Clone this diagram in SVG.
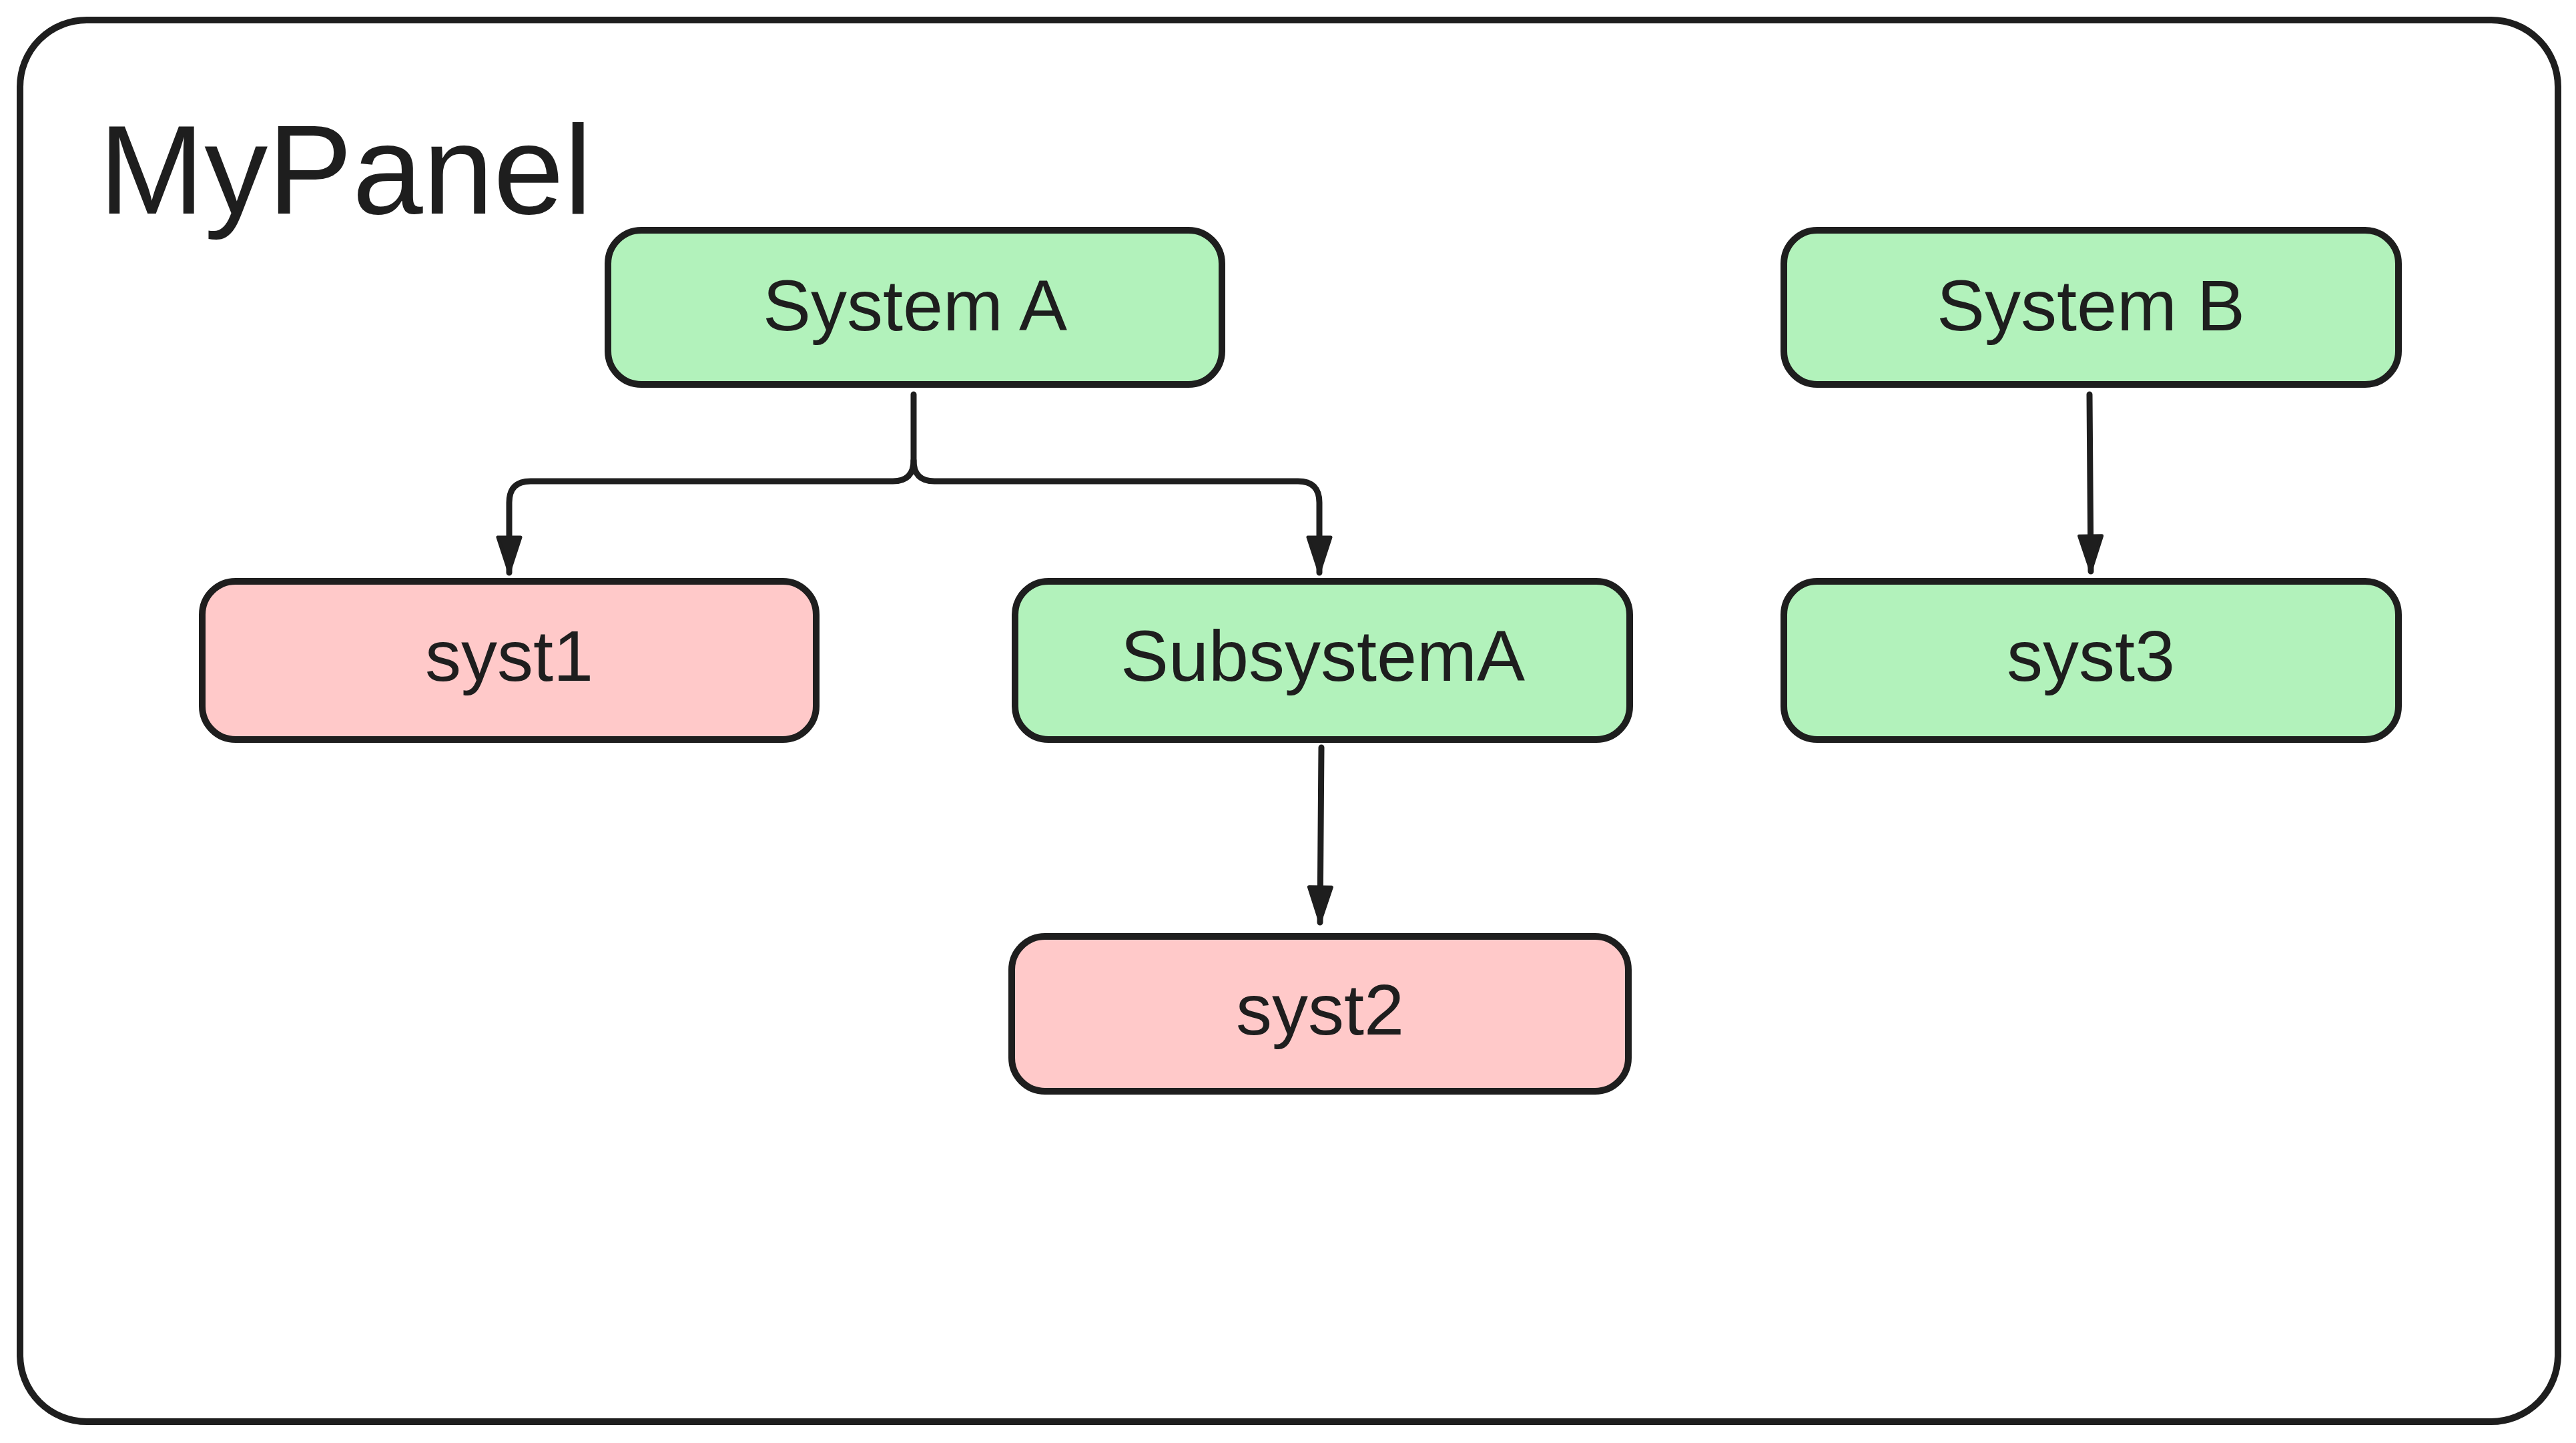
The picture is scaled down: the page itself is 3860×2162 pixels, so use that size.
<svg xmlns="http://www.w3.org/2000/svg" width="3860" height="2162" viewBox="0 0 3860 2162">
<style>
.panel{fill:#ffffff;stroke:#1e1e1e;stroke-width:10}
.node rect{stroke:#1e1e1e;stroke-width:10}
.green{fill:#b2f2bb}
.pink{fill:#ffc9c9}
.lbl{font-family:"Liberation Sans",Arial,sans-serif;font-size:108px;fill:#1e1e1e;text-anchor:middle}
.title{font-family:"Liberation Sans",Arial,sans-serif;font-size:190px;fill:#1e1e1e}
.edge{fill:none;stroke:#1e1e1e;stroke-width:9;stroke-linecap:round;stroke-linejoin:round}
</style>
<defs>
<marker id="arr" viewBox="0 0 58 40" refX="56" refY="20" markerWidth="58" markerHeight="40" markerUnits="userSpaceOnUse" orient="auto">
<path d="M3,3 L55,20 L3,37 Z" fill="#1e1e1e" stroke="#1e1e1e" stroke-width="5" stroke-linejoin="round"/>
</marker>
</defs>
<rect width="3860" height="2162" fill="#ffffff"/>
<g id="panel">
<rect class="panel" x="30" y="30" width="3803" height="2100" rx="100"/>
<text class="title" x="148" y="320">MyPanel</text>
</g>
<g id="connectors">
<path class="edge" d="M1369,591 L1369,690 Q1369,721 1338,721 L795,721 Q763,721 763,753 L763,858" marker-end="url(#arr)"/>
<path class="edge" d="M1369,690 Q1369,721 1400,721 L1945,721 Q1977,721 1977,753 L1977,858" marker-end="url(#arr)"/>
<path class="edge" d="M1980,1120 L1978,1382" marker-end="url(#arr)"/>
<path class="edge" d="M3131,591 L3133,856" marker-end="url(#arr)"/>
</g>
<g id="systemA" class="node">
<rect class="green" x="911" y="345" width="920" height="231" rx="50"/>
<text class="lbl" x="1371" y="495">System A</text>
</g>
<g id="systemB" class="node">
<rect class="green" x="2673" y="345" width="921" height="231" rx="50"/>
<text class="lbl" x="3133" y="495">System B</text>
</g>
<g id="syst1" class="node">
<rect class="pink" x="303" y="871" width="920" height="237" rx="50"/>
<text class="lbl" x="763" y="1020">syst1</text>
</g>
<g id="subsystemA" class="node">
<rect class="green" x="1521" y="871" width="921" height="237" rx="50"/>
<text class="lbl" x="1982" y="1020">SubsystemA</text>
</g>
<g id="syst3" class="node">
<rect class="green" x="2673" y="871" width="921" height="237" rx="50"/>
<text class="lbl" x="3133" y="1020">syst3</text>
</g>
<g id="syst2" class="node">
<rect class="pink" x="1516" y="1403" width="924" height="232" rx="50"/>
<text class="lbl" x="1978" y="1550">syst2</text>
</g>
</svg>
